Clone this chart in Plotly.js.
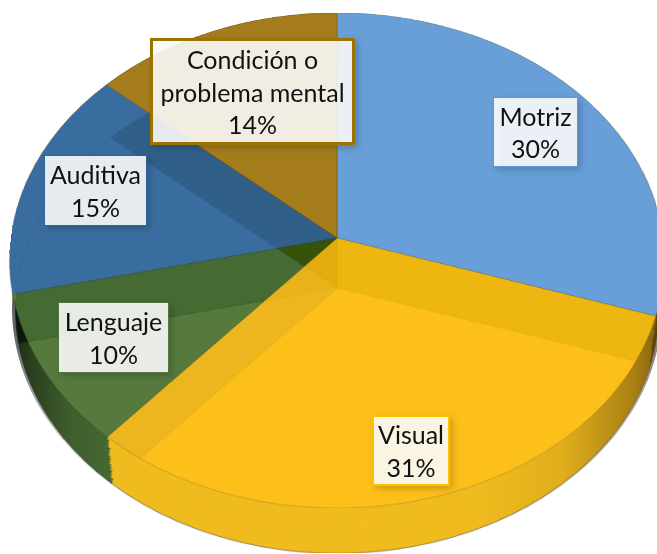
<!DOCTYPE html>
<html><head><meta charset="utf-8">
<script src="https://cdn.plot.ly/plotly-3.0.1.min.js"></script>
<style>
html,body{margin:0;padding:0;background:#fff;overflow:hidden}
#stage{position:relative;width:657px;height:554px;overflow:hidden;background:#fff}
.layer{position:absolute}
#labels .annotation rect.bg{filter:drop-shadow(3px 3px 3px rgba(0,0,0,.2))}
</style></head><body>
<div id="stage">
  <div id="backing" class="layer"></div>
  <div id="floor" class="layer"></div>
  <div id="rimWrap" class="layer" style="left:0;top:0;width:657px;height:554px">
    <div id="rim" class="layer"></div>
    <div id="rimShade" class="layer"></div>
  </div>
  <div id="topFace" class="layer"></div>
  <div id="labels" class="layer"></div>
</div>
<script>
// Data
const categories = ["Motriz","Visual","Lenguaje","Auditiva","Condición o<br>problema mental"];
const values = [30,31.4,10,15.1,13.5];
const labelPercents = ["30%","31%","10%","15%","14%"];

// Styles
const topColors = ["rgba(99,166,253,.85)","rgba(255,193,16,.85)","rgba(39,124,20,.5)","rgba(40,117,193,.7)","rgba(181,138,33,.85)"];
const underColors = ["rgb(133,120,7)","rgb(240,187,80)","rgb(133,120,104)","rgb(99,90,80)","rgb(66,43,0)"];
const rimColors = ["rgb(150,115,20)","rgb(240,187,30)","rgb(70,105,50)","rgb(25,45,35)","rgb(0,0,0)"];
const wallColors = ["rgba(0,0,0,0)","rgb(240,187,30)","rgba(0,0,0,0)","rgba(0,0,0,0)","rgba(0,0,0,0)"];
const labelBorders = ["#5b9bd5","#ffc000","#53783f","#2f6496","#9a7300"];
const labelX = [535.5,411,113.5,95.5,252.5];
const labelY = [132,450.5,337.5,190.5,91.5];
const labelW = [85,78,111,103,205];
const labelH = [70,71,71,71,107];
const labelBw = [1,2,1,1,3];
const wallShifts = [47,44,41,38,35,32,29,26,23,20,17,14,11,8,5,2];

const TILT = 41.1, K = 0.0909;
const noLine = {width:0,color:"rgba(0,0,0,0)"};
function pieLayer(el, cx, cy, R, colors, line){
  el.style.left = (cx-R)+"px"; el.style.top = (cy-R)+"px";
  el.style.width = (2*R)+"px"; el.style.height = (2*R)+"px";
  const d = R*Math.sin(TILT*Math.PI/180)/K;
  el.style.transform = "perspective("+d+"px) rotateX("+TILT+"deg)";
  Plotly.newPlot(el,[{
    type:"pie",labels:categories.map(c=>c.replace("<br>"," ")),values:values,sort:false,direction:"clockwise",rotation:0,
    textinfo:"none",hoverinfo:"skip",showlegend:false,domain:{x:[0,1],y:[0,1]},
    marker:{colors:colors,line:line}
  }],{width:2*R,height:2*R,margin:{l:0,r:0,t:0,b:0},paper_bgcolor:"rgba(0,0,0,0)",plot_bgcolor:"rgba(0,0,0,0)",showlegend:false},{staticPlot:true,displayModeBar:false});
}
const $ = id => document.getElementById(id);
pieLayer($("backing"),337,238,326,underColors,noLine);
pieLayer($("floor"),337,288,320,underColors,{width:1.2,color:"rgba(30,40,50,.4)"});
pieLayer($("rim"),337,288,320,rimColors,{width:1,color:"rgba(40,40,20,.25)"});
const wrap = $("rimWrap"), shade = $("rimShade");
wallShifts.forEach(s=>{
  const w = document.createElement("div"); w.className="layer";
  wrap.insertBefore(w, shade);
  pieLayer(w,337,238+s,326-s*6/50,wallColors,noLine);
});
pieLayer($("topFace"),337,238,326,topColors,{width:0.8,color:"rgba(40,40,30,.28)"});
// the rim and walls only show below the top face
wrap.style.clipPath = 'path(evenodd,"M0 0H657V554H0Z M10 260.5 A327 247.5 0 1 0 664 260.5 A327 247.5 0 1 0 10 260.5 Z")';
shade.style.cssText += "left:0;top:0;width:657px;height:554px;background:linear-gradient(to right,rgba(0,0,0,.65) 10px,rgba(0,0,0,.4) 30px,rgba(0,0,0,.1) 70px,rgba(0,0,0,0) 110px,rgba(0,0,0,0) 480px,rgba(50,30,0,.08) 560px,rgba(50,30,0,.35) 630px,rgba(50,30,0,.55) 657px);";
shade.style.clipPath = "ellipse(325px 246px at 337px 308px)";

// label boxes
const annotations = categories.map((c,i)=>({
  xref:"paper",yref:"paper",x:labelX[i]/657,y:1-labelY[i]/554,xanchor:"center",yanchor:"middle",
  text:c+"<br>"+labelPercents[i],showarrow:false,align:"center",width:labelW[i]-2*labelBw[i],height:labelH[i]-2*labelBw[i],
  bgcolor:"rgba(255,255,255,.88)",bordercolor:labelBorders[i],borderwidth:labelBw[i],borderpad:0,
  font:{family:"Lato, Carlito, sans-serif",size:25,color:"#111"}
}));
Plotly.newPlot("labels",[],{
  width:657,height:554,margin:{l:0,r:0,t:0,b:0},paper_bgcolor:"rgba(0,0,0,0)",plot_bgcolor:"rgba(0,0,0,0)",
  xaxis:{visible:false},yaxis:{visible:false},annotations:annotations
},{staticPlot:true,displayModeBar:false});
</script>
</body></html>
